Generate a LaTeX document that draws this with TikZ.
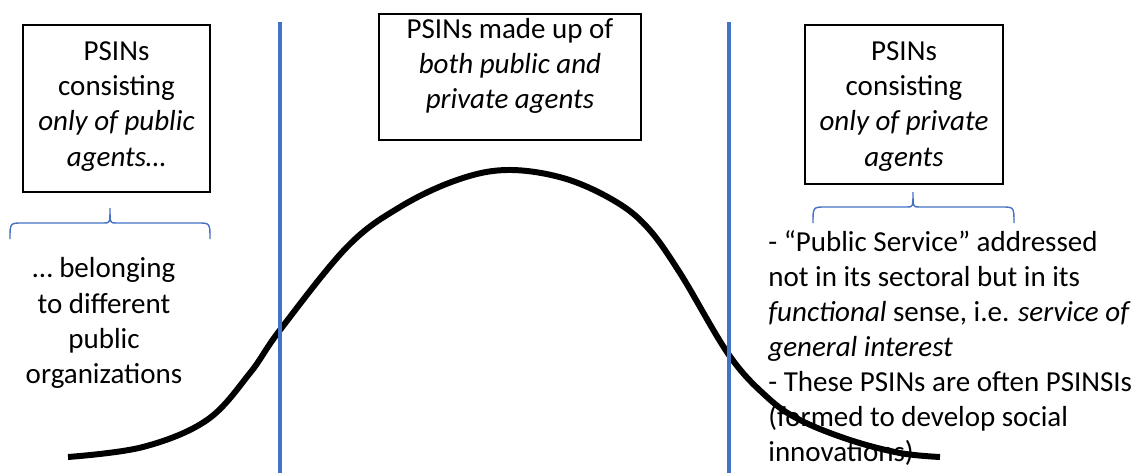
\documentclass[tikz,border=0pt]{standalone}
\usepackage{fontspec}
\setmainfont{Carlito}
\usepackage{tikz}
\definecolor{divblue}{HTML}{4472C4}

% brace opening downwards: #1 left x, #2 tip x, #3 right x, #4 end y, #5 bar y, #6 tip y
\newcommand{\groupbrace}[6]{%
  \draw[divblue, line width=0.8pt]
    (#1,#4) .. controls (#1,#5) .. (#1+0.25,#5) -- (#2-0.12,#5)
    .. controls (#2,#5) .. (#2,#6) .. controls (#2,#5) .. (#2+0.12,#5)
    -- (#3-0.25,#5) .. controls (#3,#5) .. (#3,#4);}

\begin{document}
\begin{tikzpicture}[x=1cm,y=1cm,
    box/.style={draw=black, line width=0.8pt, inner sep=0pt},
    note/.style={inner sep=0pt, font=\fontsize{16.5}{20}\selectfont},
    divider/.style={draw=divblue, line width=2.2pt}]
      \useasboundingbox (0,0) rectangle (22.66,9.46);

      \node[box, minimum width=3.74cm, minimum height=3.34cm] (pub) at (2.33,7.29) {};
      \node[note, align=center] (pubtitle) at (2.33,7.33)
        {PSINs\\consisting\\\textit{only of public}\\\textit{agents…}};
      \node[box, minimum width=5.24cm, minimum height=2.52cm] (mix) at (10.2,7.92) {};
      \node[note, align=center] (mixtitle) at (10.2,8.14)
        {PSINs made up of\\\textit{both public and}\\\textit{private agents}};
      \node[box, minimum width=3.96cm, minimum height=3.18cm] (priv) at (18.08,7.37) {};
      \node[note, align=center] (privtitle) at (18.08,7.33)
        {PSINs\\consisting\\\textit{only of private}\\\textit{agents}};

      \groupbrace{0.2}{2.2}{4.2}{4.68}{5.0}{5.3}
      \groupbrace{16.26}{18.26}{20.28}{5.0}{5.32}{5.62}

      \node[note, align=center] (pubtxt) at (2.08,3.0)
        {… belonging\\to different\\public\\organizations};
      \node[note, align=left, anchor=west] (privtxt) at (15.36,2.5)
        {- “Public Service” addressed\\not in its sectoral but in its\\
         \textit{functional} sense, i.e. \textit{service of}\\\textit{general interest}\\
         - These PSINs are often PSINSIs\\(formed to develop social\\innovations)};

      \draw[line width=3.4pt] plot[smooth, tension=0.6] coordinates {
        (1.36,0.32) (2.86,0.52) (4.14,1.06) (5.0,2.0) (5.6,2.86) (6.94,4.52)
        (8.0,5.32) (9.14,5.86) (10.14,6.06) (11.26,5.9) (12.26,5.46) (12.94,4.92)
        (13.6,4.0) (14.58,2.36) (15.34,1.52) (16.0,1.06) (17.0,0.66) (18.0,0.4)
        (18.8,0.32)};

      \draw[divider] (5.6,9.02) -- (5.6,0);
      \draw[divider] (14.58,9.02) -- (14.58,0);
    \end{tikzpicture}
\end{document}
